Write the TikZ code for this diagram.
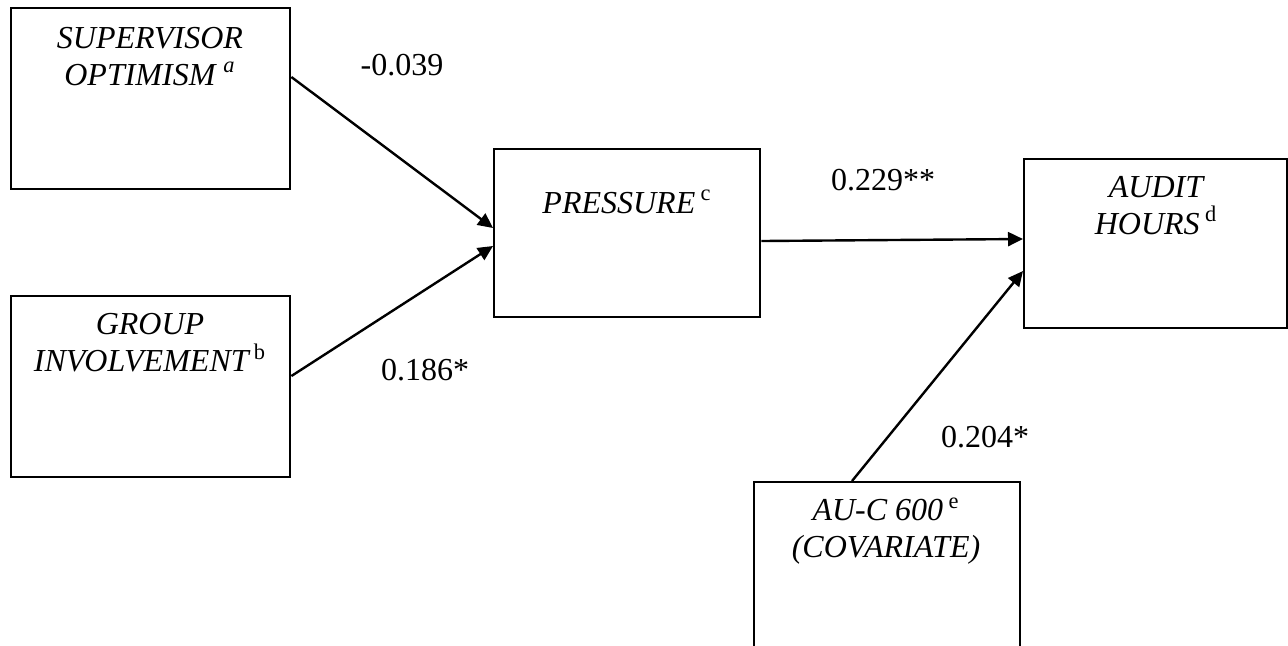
\documentclass[tikz,border=0pt]{standalone}
\usepackage{fontspec}
\setmainfont{Liberation Serif}
\usetikzlibrary{arrows.meta,calc}

\begin{document}
\begin{tikzpicture}[
  x=0.5pt, y=-0.5pt,
  box/.style 2 args={draw,line width=1.2pt,anchor=north west,inner sep=0pt,minimum width=#1*0.5pt,minimum height=#2*0.5pt},
  txt/.style={align=center,inner sep=0pt,font=\fontsize{16pt}{18.5pt}\selectfont\itshape},
  coef/.style={inner sep=0pt,font=\fontsize{16pt}{18.5pt}\selectfont},
  arr/.style={line width=1.2pt,-{Triangle[length=7.5pt,width=7pt]}}
]
\clip (0,0) rectangle (1288,645);
% boxes
\node[box={279}{181}] (sup) at (10,7) {};
\node[box={279}{181}] (grp) at (10,295) {};
\node[box={266}{168}] (prs) at (493,148) {};
\node[box={263}{169}] (aud) at (1023,158) {};
\node[box={266}{200}] (auc) at (753,481) {};

% box texts
\node[txt] (supT) at (150,56.5) {SUPERVISOR\\OPTIMISM\ \textsuperscript{a}};
\node[txt] (grpT) at (150,343) {GROUP\\INVOLVEMENT\,\textsuperscript{\upshape b}};
\node[txt] (prsT) at (627,202) {PRESSURE\,\textsuperscript{\upshape c}};
\node[txt] (audT) at (1156,205.5) {AUDIT\\HOURS\,\textsuperscript{\upshape d}};
\node[txt] (aucT) at (886,531) {AU-C 600\,\textsuperscript{\upshape e}\\(COVARIATE)};

% paths
\draw[arr] ($(sup.north east)+(0,70)$) -- ($(prs.north west)+(0,80)$);
\draw[arr] ($(grp.north east)+(0,81)$) -- ($(prs.north west)+(0,98)$);
\draw[arr] ($(prs.north east)+(0,93)$) -- ($(aud.north west)+(0,81)$);
\draw[arr] ($(auc.north west)+(99,0)$) -- ($(aud.north west)+(0,113)$);

% coefficients
\node[coef] (c1) at (402,65) {-0.039};
\node[coef] (c2) at (425,370) {0.186*};
\node[coef] (c3) at (883,180) {0.229**};
\node[coef] (c4) at (985,437) {0.204*};
\end{tikzpicture}
\end{document}
